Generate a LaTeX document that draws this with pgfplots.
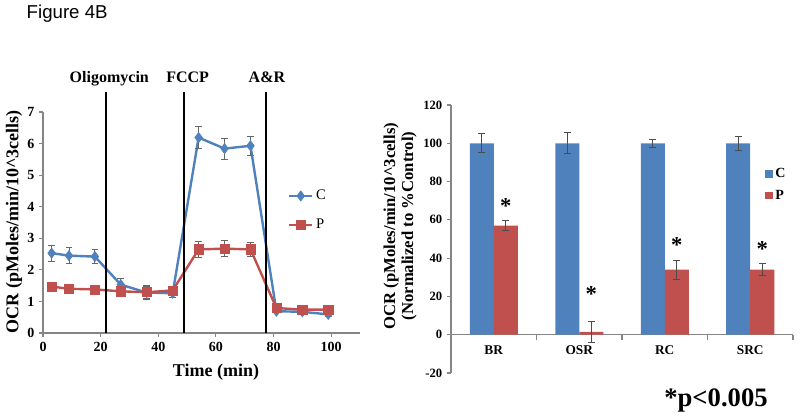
\documentclass[border=0pt]{standalone}
\usepackage{fontspec}
\setmainfont{Liberation Serif}
\newfontfamily\arial{Liberation Sans}
\usepackage{pgfplots}
\pgfplotsset{compat=1.18}
\definecolor{cblue}{HTML}{4F81BD}
\definecolor{cred}{HTML}{C0504D}
\definecolor{axgray}{HTML}{868686}
\begin{document}
\begin{tikzpicture}
\useasboundingbox (0,0) rectangle (600pt,315pt);
% ---------------- left: time course ----------------
\begin{axis}[
  at={(32.25pt,65.25pt)}, anchor=south west,
  scale only axis, width=237.75pt, height=165.75pt,
  xmin=0, xmax=110, ymin=0, ymax=7,
  axis x line*=bottom, axis y line*=left,
  axis line style={axgray, line width=0.8pt},
  tick style={axgray, line width=0.8pt}, tick align=outside, major tick length=3pt,
  xtick={0,20,...,100}, ytick={0,1,...,7},
  tick label style={font=\bfseries\fontsize{10.5}{12}\selectfont},
  /pgf/number format/assume math mode=true,
  clip=false,
  legend style={at={(axis cs:85,4.62)}, anchor=north west, draw=none, fill=none,
    font=\fontsize{11}{13}\selectfont, row sep=9pt, inner sep=0pt},
  legend cell align=left,
]
\addplot[cblue, line width=1.8pt, mark=diamond*, mark size=3.8pt,
  mark options={solid, fill=cblue, line width=0.5pt},
  error bars/.cd, y dir=both, y explicit,
  error bar style={black!60, line width=0.6pt},
  error mark options={rotate=90, black!60, mark size=2.5pt, line width=0.6pt}]
coordinates {
 (3,2.53) +- (0,0.26)
 (9,2.45) +- (0,0.26)
 (18,2.42) +- (0,0.22)
 (27,1.53) +- (0,0.21)
 (36,1.28) +- (0,0.23)
 (45,1.26) +- (0,0.13)
 (54,6.19) +- (0,0.34)
 (63,5.84) +- (0,0.33)
 (72,5.93) +- (0,0.31)
 (81,0.69) +- (0,0.05)
 (90,0.67) +- (0,0.05)
 (99,0.59) +- (0,0.05)
};
\addlegendentry{C}
\addplot[cred, line width=1.8pt, mark=square*, mark size=3.4pt,
  mark options={solid, fill=cred, line width=0.5pt},
  error bars/.cd, y dir=both, y explicit,
  error bar style={black!60, line width=0.6pt},
  error mark options={rotate=90, black!60, mark size=2.5pt, line width=0.6pt}]
coordinates {
 (3,1.47) +- (0,0.10)
 (9,1.40) +- (0,0.05)
 (18,1.38) +- (0,0.05)
 (27,1.32) +- (0,0.05)
 (36,1.29) +- (0,0.20)
 (45,1.35) +- (0,0.08)
 (54,2.65) +- (0,0.26)
 (63,2.67) +- (0,0.25)
 (72,2.65) +- (0,0.22)
 (81,0.79) +- (0,0.08)
 (90,0.74) +- (0,0.04)
 (99,0.74) +- (0,0.04)
};
\addlegendentry{P}
\draw[black, line width=1.5pt] (axis cs:21.8,0) -- (axis cs:21.8,7.63);
\draw[black, line width=1.5pt] (axis cs:48.9,0) -- (axis cs:48.9,7.63);
\draw[black, line width=1.5pt] (axis cs:77.3,0) -- (axis cs:77.3,7.63);
\node[anchor=base, font=\bfseries\fontsize{12}{14}\selectfont] at (axis cs:23,7.92) {Oligomycin};
\node[anchor=base, font=\bfseries\fontsize{12}{14}\selectfont] at (axis cs:50.2,7.92) {FCCP};
\node[anchor=base, font=\bfseries\fontsize{12}{14}\selectfont] at (axis cs:77.7,7.92) {A\&R};
\end{axis}
% ---------------- right: bars ----------------
\begin{axis}[
  at={(338.25pt,35.25pt)}, anchor=south west,
  scale only axis, width=256.5pt, height=201pt,
  xmin=-0.5, xmax=3.5, ymin=-20, ymax=120,
  ybar=0pt, bar width=18pt,
  axis y line*=left, axis x line*=middle,
  axis line style={axgray, line width=0.8pt},
  tick style={axgray, line width=0.8pt}, tick align=outside,
  major tick length=3pt,
  xtick={0,1,2,3}, xticklabels={BR,OSR,RC,SRC},
  major x tick style={draw=none},
  ytick={-20,0,20,40,60,80,100,120},
  yticklabel style={font=\bfseries\fontsize{9.5}{11}\selectfont},
  xticklabel style={font=\bfseries\fontsize{10}{12}\selectfont, yshift=-2pt},
  /pgf/number format/assume math mode=true,
  clip=false,
  legend image code/.code={\fill[#1] (0pt,-2.8pt) rectangle (5.6pt,2.8pt);},
  legend style={at={(rel axis cs:0.918,0.775)}, anchor=north west, draw=none, fill=none,
    font=\bfseries\fontsize{10.5}{12}\selectfont, row sep=4pt, inner sep=0pt},
  legend cell align=left,
]
\addplot[fill=cblue, draw=none,
  error bars/.cd, y dir=both, y explicit,
  error bar style={draw=black!70, line width=0.6pt},
  error mark options={rotate=90, draw=black!70, mark size=2.5pt, line width=0.6pt}]
coordinates {(0,100) +- (0,5) (1,100) +- (0,5.5) (2,100) +- (0,2) (3,100) +- (0,3.5)};
\addlegendentry{C}
\addplot[fill=cred, draw=none,
  error bars/.cd, y dir=both, y explicit,
  error bar style={draw=black!70, line width=0.6pt},
  error mark options={rotate=90, draw=black!70, mark size=2.5pt, line width=0.6pt}]
coordinates {(0,57) +- (0,2.5) (1,1.5) +- (0,5.5) (2,34) +- (0,5) (3,34) +- (0,3)};
\addlegendentry{P}
\draw[axgray, line width=0.8pt] (axis cs:0.5,0) -- ([yshift=-4pt]axis cs:0.5,0);
\draw[axgray, line width=0.8pt] (axis cs:1.5,0) -- ([yshift=-4pt]axis cs:1.5,0);
\draw[axgray, line width=0.8pt] (axis cs:2.5,0) -- ([yshift=-4pt]axis cs:2.5,0);
\draw[axgray, line width=0.8pt] (axis cs:3.5,0) -- ([yshift=-4pt]axis cs:3.5,0);
\node[font=\bfseries\fontsize{17}{17}\selectfont, xshift=9pt] at (axis cs:0,67) {*};
\node[font=\bfseries\fontsize{17}{17}\selectfont, xshift=9pt] at (axis cs:1,21) {*};
\node[font=\bfseries\fontsize{17}{17}\selectfont, xshift=9pt] at (axis cs:2,47) {*};
\node[font=\bfseries\fontsize{17}{17}\selectfont, xshift=9pt] at (axis cs:3,45) {*};
\end{axis}
% ---------------- free text ----------------
\begin{scope}[x=0.75pt, y=0.75pt]
\node[anchor=base west, font=\arial\fontsize{14}{16}\selectfont] at (22,401) {Figure 4B};
\node[rotate=90, font=\bfseries\fontsize{13.5}{15}\selectfont] at (14,198) {OCR (pMoles/min/10\textasciicircum 3cells)};
\node[font=\bfseries\fontsize{13.5}{15}\selectfont] at (216,48) {Time (min)};
\node[rotate=90, align=center, font=\bfseries\fontsize{12.5}{13.5}\selectfont] at (400,194) {OCR (pMoles/min/10\textasciicircum 3cells)\\(Normalized to \%Control)};
\node[anchor=base, font=\bfseries\fontsize{20}{22}\selectfont] at (716,13) {*p<0.005};
\end{scope}
\end{tikzpicture}
\end{document}
